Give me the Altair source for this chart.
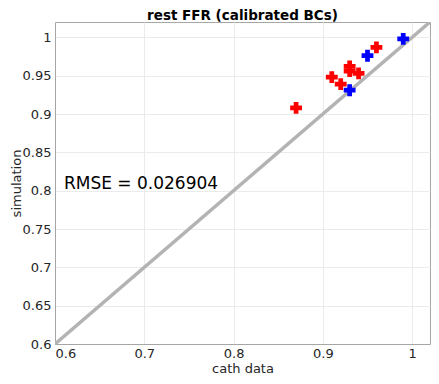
import altair as alt
import pandas as pd

# data
cath_red = [0.96, 0.93, 0.93, 0.94, 0.91, 0.92, 0.87]
sim_red = [0.987, 0.962, 0.956, 0.953, 0.948, 0.939, 0.908]
cath_blue = [0.99, 0.95, 0.93]
sim_blue = [0.998, 0.976, 0.931]
line_x = [0.6, 1.02]
line_y = [0.6, 1.02]
rmse_label = "RMSE = 0.026904"
x_ticks = [0.6, 0.7, 0.8, 0.9, 1.0]
y_ticks = [0.6, 0.65, 0.7, 0.75, 0.8, 0.85, 0.9, 0.95, 1.0]

pts = pd.DataFrame({
    "cath": cath_red + cath_blue,
    "sim": sim_red + sim_blue,
    "grp": ["red"] * len(cath_red) + ["blue"] * len(cath_blue),
})
diag = pd.DataFrame({"cath": line_x, "sim": line_y})
txt = pd.DataFrame({"cath": [0.61], "sim": [0.809], "t": [rmse_label]})

xs = alt.Scale(domain=[0.6, 1.02], nice=False, zero=False)
ys = alt.Scale(domain=[0.6, 1.02], nice=False, zero=False)
xax = alt.Axis(values=x_ticks, format="~g", title="cath data", labelPadding=3,
               titlePadding=2, tickSize=0)
yax = alt.Axis(values=y_ticks, format="~g", title="simulation", labelPadding=4,
               titleX=-35, titleBaseline="alphabetic", tickSize=0)

line = alt.Chart(diag).mark_line(color="#b3b3b3", strokeWidth=3.5, clip=True).encode(
    x=alt.X("cath:Q", scale=xs, axis=xax),
    y=alt.Y("sim:Q", scale=ys, axis=yax),
)
points = alt.Chart(pts).mark_point(shape="cross", filled=True, size=140, opacity=1).encode(
    x=alt.X("cath:Q", scale=xs),
    y=alt.Y("sim:Q", scale=ys),
    color=alt.Color("grp:N", scale=alt.Scale(domain=["red", "blue"], range=["#ff0000", "#0000ff"]), legend=None),
)
text = alt.Chart(txt).mark_text(align="left", baseline="middle", fontSize=17,
                                font="DejaVu Sans", color="#000000").encode(
    x=alt.X("cath:Q", scale=xs),
    y=alt.Y("sim:Q", scale=ys),
    text="t:N",
)

chart = alt.layer(line, points, text).properties(
    width=375, height=322,
    title=alt.TitleParams("rest FFR (calibrated BCs)", fontSize=13.5, fontWeight="bold",
                          font="DejaVu Sans", color="#000000", offset=0, anchor="middle"),
    autosize=alt.AutoSizeParams(type="none"),
    padding={"left": 47, "top": 14, "right": 1, "bottom": 32},
    background="white",
).configure_view(stroke="#a6a6a6", strokeWidth=1).configure_axis(
    labelFont="DejaVu Sans", titleFont="DejaVu Sans", labelFontSize=13, titleFontSize=13,
    labelColor="#262626", titleColor="#262626", titleFontWeight="normal",
    gridColor="#ebebeb", domainColor="#a6a6a6",
)

chart.save("out.html", embed_options={"renderer": "svg", "actions": False})
